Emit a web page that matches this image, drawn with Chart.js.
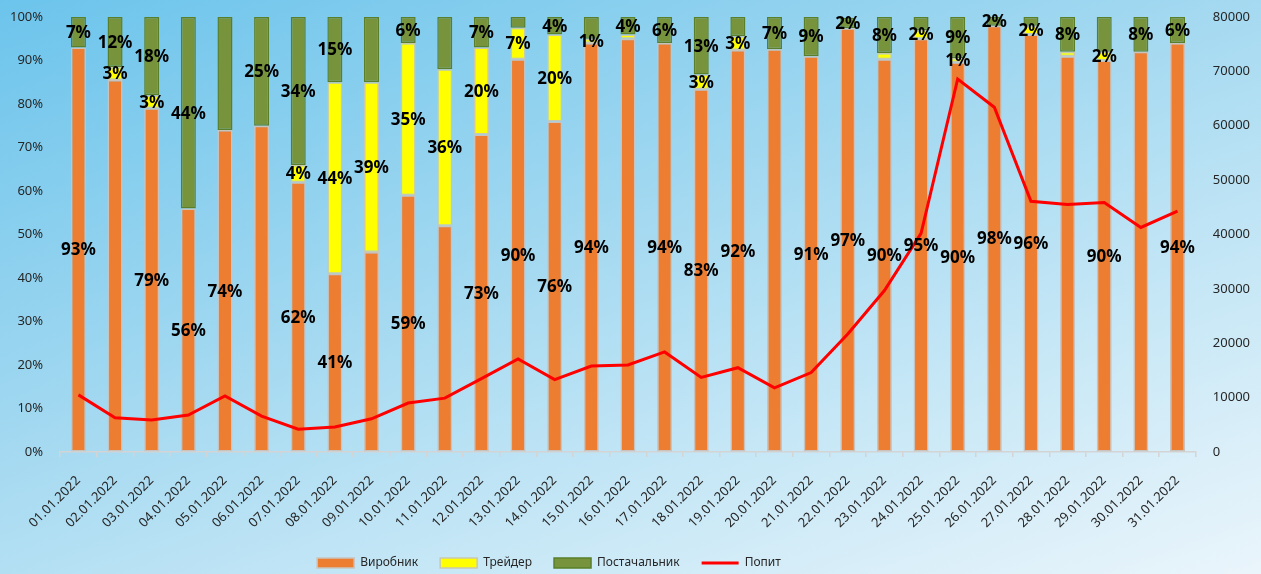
<!DOCTYPE html>
<html lang="uk">
<head>
<meta charset="utf-8">
<title>Структура продажів і попит, січень 2022</title>
<script src="https://cdn.jsdelivr.net/npm/chart.js@4/dist/chart.umd.min.js"></script>
<style>
  html, body { margin: 0; padding: 0; }
  body {
    width: 1261px; height: 574px; overflow: hidden;
    background: linear-gradient(160deg, #6cc4ec 0%, #9fd7f0 40%, #c6e7f6 70%, #eaf5fb 100%);
  }
  #wrap { position: relative; width: 1261px; height: 574px; }
</style>
</head>
<body>
<div id="wrap"><canvas id="grafik" width="1261" height="574"></canvas></div>
<script>
// Дати
const dni = [
  '01.01.2022', '02.01.2022', '03.01.2022', '04.01.2022', '05.01.2022', '06.01.2022',
  '07.01.2022', '08.01.2022', '09.01.2022', '10.01.2022', '11.01.2022', '12.01.2022',
  '13.01.2022', '14.01.2022', '15.01.2022', '16.01.2022', '17.01.2022', '18.01.2022',
  '19.01.2022', '20.01.2022', '21.01.2022', '22.01.2022', '23.01.2022', '24.01.2022',
  '25.01.2022', '26.01.2022', '27.01.2022', '28.01.2022', '29.01.2022', '30.01.2022',
  '31.01.2022'
];

// Частки, %
const vyrobnyk = [93, 85.5, 79, 56, 74, 75, 62, 41, 46, 59, 52, 73, 90.3, 76, 94, 95,
  94, 83.4, 92.4, 92.6, 91, 97.4, 90.3, 95, 89.6, 98, 96, 91, 90, 92, 94];
const treider = [0, 3, 3, 0, 0, 0, 4, 44, 39, 35, 36, 20, 7.2, 20, 1, 1,
  0, 3.4, 3.2, 0, 0, 0, 1.4, 2, 1, 0, 2, 1, 2, 0, 0];
const postachalnyk = [7, 11.5, 18, 44, 26, 25, 34, 15, 15, 6, 12, 7, 2.5, 4, 5, 4,
  6, 13.2, 4.4, 7.4, 9, 2.4, 8.3, 3, 9.4, 2, 2, 8, 8, 8, 6];

// Попит
const popyt = [10500, 6300, 5900, 6800, 10300, 6600, 4200, 4600, 6100, 9000, 9900,
  13500, 17100, 13300, 15800, 16000, 18400, 13700, 15500, 11800, 14600, 21700,
  29700, 40200, 68600, 63400, 46100, 45500, 45900, 41300, 44300];

// Які підписи показані (1 - так)
const pidpysVyrobnyk = [1,0,1,1,1,0,1,1,0,1,0,1,1,1,1,0,1,1,1,0,1,1,1,1,1,1,1,0,1,0,1];
const pidpysTreider = [0,1,1,0,0,0,1,1,1,1,1,1,1,1,1,0,0,1,1,0,0,0,0,1,1,0,1,0,1,0,0];
const pidpysPostach = [1,1,1,1,0,1,1,1,0,1,0,1,0,1,0,1,1,1,0,1,1,1,1,0,1,1,0,1,0,1,1];

const vsiPidpysy = [pidpysVyrobnyk, pidpysTreider, pidpysPostach];

// Підписи на стовпцях
const pidpysy = {
  id: 'pidpysy',
  afterDatasetsDraw(chart) {
    const ctx = chart.ctx;
    ctx.save();
    ctx.font = 'bold 17px "Noto Sans", sans-serif';
    ctx.fillStyle = '#000';
    ctx.textAlign = 'center';
    ctx.textBaseline = 'middle';
    vsiPidpysy.forEach((pokaz, di) => {
      const meta = chart.getDatasetMeta(di);
      meta.data.forEach((bar, i) => {
        const v = chart.data.datasets[di].data[i];
        if (!pokaz[i] || !v) return;
        const y = (bar.y + bar.base) / 2;
        ctx.fillText(Math.round(v) + '%', bar.x, y + 1);
      });
    });
    ctx.restore();
  }
};

// Легенда трохи лівіше, як в оригіналі
const zsuvLegendy = {
  id: 'zsuvLegendy',
  afterLayout(chart) {
    chart.legend.left -= 81;
    chart.legend.right -= 81;
  }
};

const tekst = '#262626';
const shryft = { family: '"Noto Sans", sans-serif', size: 13 };
// невидимі риски осей - лише відступ між підписами і графіком
const nevydymiRysky = { display: true, drawOnChartArea: false, drawTicks: true, tickLength: 11, color: 'rgba(0,0,0,0)' };

new Chart(document.getElementById('grafik'), {
  data: {
    labels: dni,
    datasets: [
      {
        type: 'bar', label: 'Виробник', data: vyrobnyk,
        backgroundColor: '#ED7D31', borderColor: '#c9c3bf', borderWidth: 1.5,
        borderSkipped: false, yAxisID: 'y', order: 1
      },
      {
        type: 'bar', label: 'Трейдер', data: treider,
        backgroundColor: '#FFFF00', borderColor: '#c9c9b0', borderWidth: 1.5,
        borderSkipped: false, yAxisID: 'y', order: 1
      },
      {
        type: 'bar', label: 'Постачальник', data: postachalnyk,
        backgroundColor: '#77933C', borderColor: '#5a7f2a', borderWidth: 1.5,
        borderSkipped: false, yAxisID: 'y', order: 1
      },
      {
        type: 'line', label: 'Попит', data: popyt,
        borderColor: '#FF0000', backgroundColor: '#FF0000', borderWidth: 3,
        pointRadius: 0, tension: 0, yAxisID: 'y1', order: 0
      }
    ]
  },
  options: {
    responsive: false,
    animation: false,
    barPercentage: 0.41,
    categoryPercentage: 1,
    layout: { padding: { left: 4, right: 5, top: 17, bottom: -5 } },
    plugins: {
      tooltip: { enabled: false },
      legend: {
        position: 'bottom',
        labels: {
          sort: (a, b) => a.datasetIndex - b.datasetIndex,
          usePointStyle: true,
          pointStyleWidth: 37,
          boxWidth: 37,
          boxHeight: 10,
          padding: 22,
          color: tekst,
          font: { family: '"Noto Sans", sans-serif', size: 12 },
          generateLabels(chart) {
            const items = Chart.defaults.plugins.legend.labels.generateLabels(chart);
            items.forEach(it => {
              it.pointStyle = chart.data.datasets[it.datasetIndex].type === 'line' ? 'line' : 'rect';
            });
            return items;
          }
        }
      }
    },
    scales: {
      x: {
        stacked: true,
        grid: { display: true, drawOnChartArea: false, drawTicks: true, tickLength: 5, color: '#d4d4d4', lineWidth: 1.5 },
        border: { display: true, color: '#d4d4d4', width: 1.5 },
        ticks: { color: tekst, font: shryft, maxRotation: 45, minRotation: 45, autoSkip: false, padding: 16 },
        afterFit: scale => { scale.height -= 12; }
      },
      y: {
        stacked: true, min: 0, max: 100,
        grid: nevydymiRysky,
        border: { display: false },
        ticks: { stepSize: 10, color: tekst, font: shryft, padding: 6, callback: v => v + '%' }
      },
      y1: {
        position: 'right', min: 0, max: 80000,
        grid: nevydymiRysky,
        border: { display: false },
        ticks: { stepSize: 10000, color: tekst, font: shryft, padding: 6, callback: v => String(v) }
      }
    }
  },
  plugins: [pidpysy, zsuvLegendy]
});
</script>
</body>
</html>
